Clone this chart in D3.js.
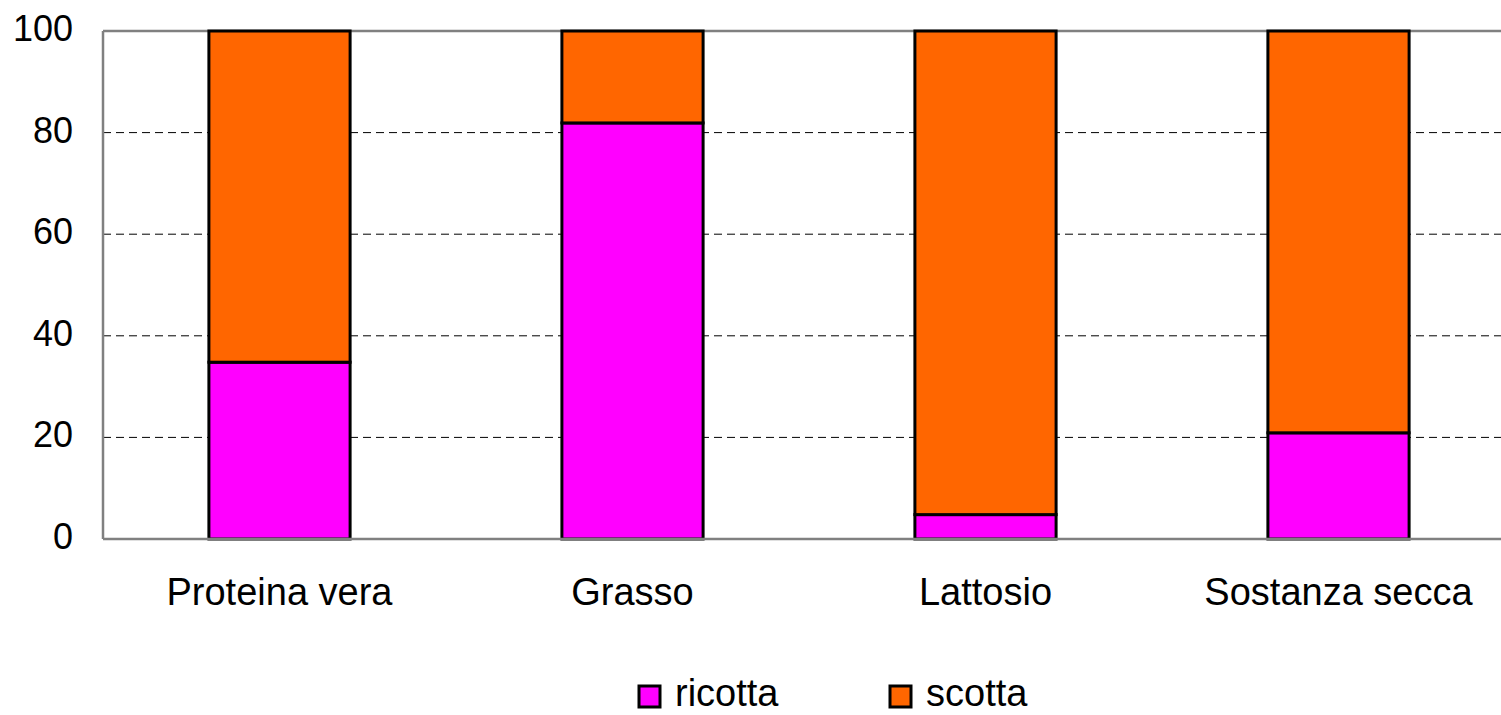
<!DOCTYPE html>
<html>
<head>
<meta charset="utf-8">
<script src="https://cdn.jsdelivr.net/npm/d3@7"></script>
<style>
  body { margin: 0; background: #fff; }
  text { font-family: "Liberation Sans", Arial, sans-serif; }
</style>
</head>
<body>
<div id="chart"></div>
<script>
const categories = ["Proteina vera", "Grasso", "Lattosio", "Sostanza secca"];
const ricotta = [34.8, 81.9, 4.8, 20.9];
const scotta = [65.2, 18.1, 95.2, 79.1];
const yTicks = [0, 20, 40, 60, 80, 100];
const seriesNames = ["ricotta", "scotta"];

const width = 1501, height = 715;
const margin = { top: 31, bottom: 176, left: 103 };

const svg = d3.select("#chart").append("svg")
  .attr("width", width)
  .attr("height", height);

// plot area runs a little past the right edge of the picture
const x = d3.scaleBand()
  .domain(categories)
  .range([margin.left, 1515])
  .paddingInner(0.6)
  .paddingOuter(0.3);

const y = d3.scaleLinear()
  .domain([0, 100])
  .range([height - margin.bottom, margin.top]);

const color = d3.scaleOrdinal()
  .domain(seriesNames)
  .range(["#ff00ff", "#ff6600"]);

// gridlines (dashed)
svg.append("g")
  .selectAll("line")
  .data(yTicks.filter(d => d > 0 && d < 100))
  .join("line")
  .attr("x1", margin.left)
  .attr("x2", width)
  .attr("y1", d => y(d))
  .attr("y2", d => y(d))
  .attr("stroke", "#000")
  .attr("stroke-width", 1)
  .attr("stroke-dasharray", "8,5");

// top border
svg.append("line")
  .attr("x1", margin.left).attr("x2", width)
  .attr("y1", y(100)).attr("y2", y(100))
  .attr("stroke", "#808080").attr("stroke-width", 2.5);

// stacked data
const table = categories.map((c, i) => ({ cat: c, ricotta: ricotta[i], scotta: scotta[i] }));
const stack = d3.stack().keys(seriesNames)(table);

svg.append("g")
  .selectAll("g")
  .data(stack)
  .join("g")
  .attr("fill", d => color(d.key))
  .selectAll("rect")
  .data(d => d)
  .join("rect")
  .attr("x", d => x(d.data.cat))
  .attr("width", x.bandwidth())
  .attr("y", d => y(d[1]))
  .attr("height", d => y(d[0]) - y(d[1]))
  .attr("stroke", "#000")
  .attr("stroke-width", 3);

// axis lines
svg.append("line")
  .attr("x1", margin.left).attr("x2", margin.left)
  .attr("y1", y(100)).attr("y2", y(0))
  .attr("stroke", "#808080").attr("stroke-width", 2.5);
svg.append("line")
  .attr("x1", margin.left).attr("x2", width)
  .attr("y1", y(0)).attr("y2", y(0))
  .attr("stroke", "#808080").attr("stroke-width", 2.5);

// y tick labels
svg.append("g")
  .selectAll("text")
  .data(yTicks)
  .join("text")
  .attr("x", 73)
  .attr("y", d => y(d) + 10)
  .attr("text-anchor", "end")
  .style("font-size", "36px")
  .attr("fill", "#000")
  .text(d => d);

// category labels
svg.append("g")
  .selectAll("text")
  .data(categories)
  .join("text")
  .attr("x", d => x(d) + x.bandwidth() / 2)
  .attr("y", 605)
  .attr("text-anchor", "middle")
  .style("font-size", "38px")
  .attr("fill", "#000")
  .text(d => d);

// legend
const legend = svg.append("g")
  .selectAll("g")
  .data(seriesNames)
  .join("g")
  .attr("transform", (d, i) => `translate(${639 + i * 251},686)`);
legend.append("rect")
  .attr("width", 21).attr("height", 21)
  .attr("fill", d => color(d))
  .attr("stroke", "#000").attr("stroke-width", 3);
legend.append("text")
  .attr("x", 36).attr("y", 20)
  .style("font-size", "38px")
  .attr("fill", "#000")
  .text(d => d);
</script>
</body>
</html>
